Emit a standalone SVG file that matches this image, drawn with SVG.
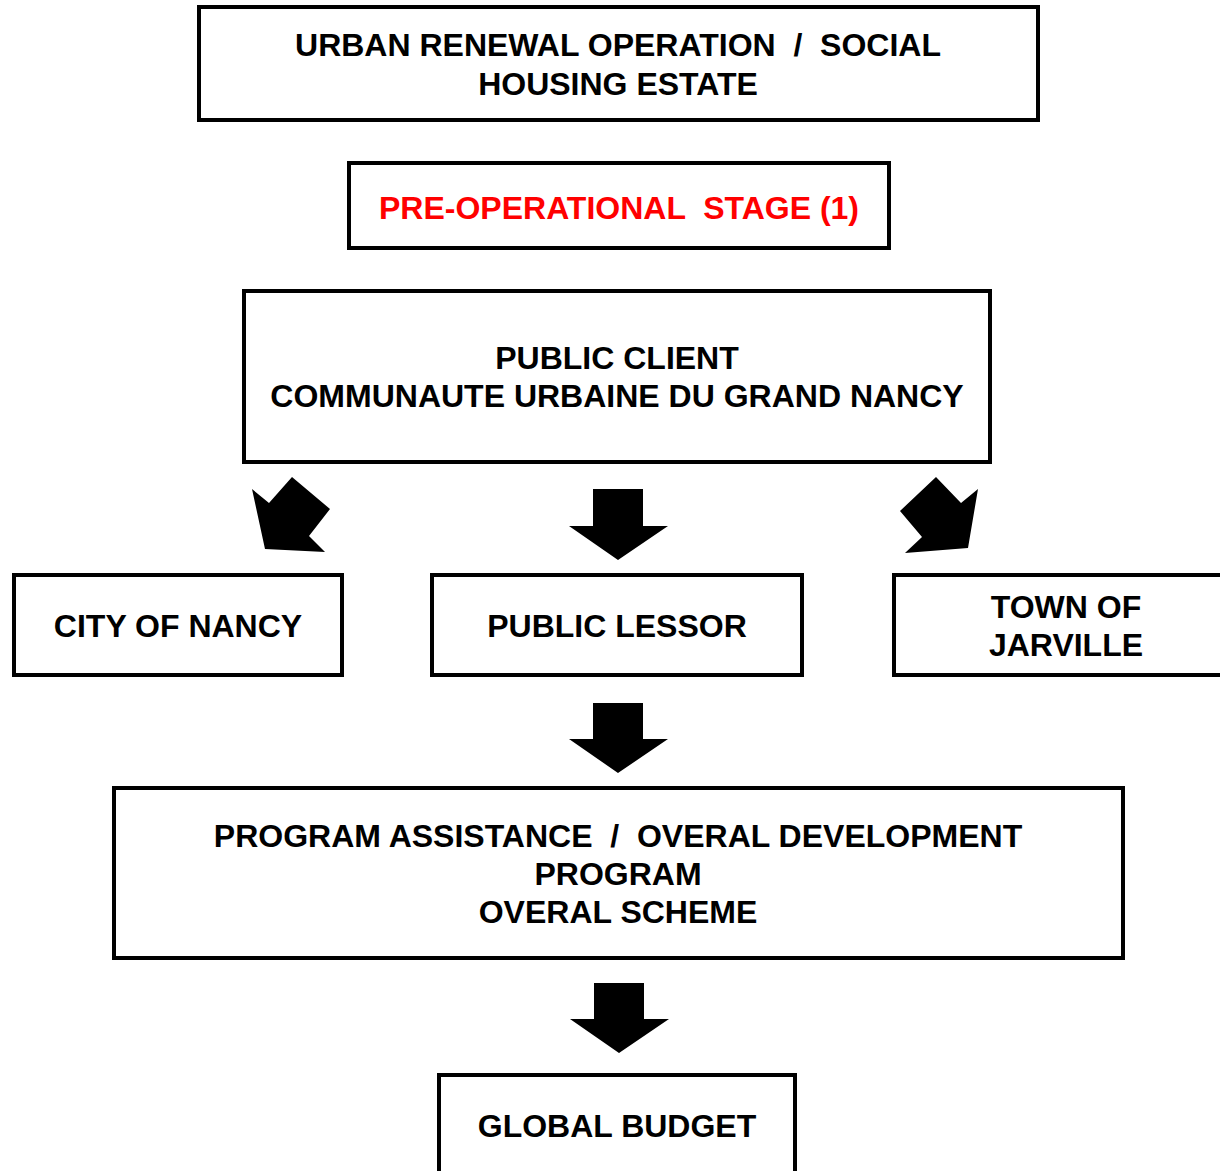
<svg xmlns="http://www.w3.org/2000/svg" width="1220" height="1171" viewBox="0 0 1220 1171">
<style>
.box{fill:#fff;stroke:#000;stroke-width:4}
.t{font-family:"Liberation Sans",Arial,sans-serif;font-weight:bold;font-size:32px;fill:#000;text-anchor:middle;white-space:pre}
.red{fill:#ff0000}
.arr{fill:#000;stroke:none}
</style>
<rect width="1220" height="1171" fill="#fff"/>
<g id="urban-renewal">
<rect class="box" x="199" y="7" width="839" height="113"/>
<text class="t" x="618" y="56" xml:space="preserve">URBAN RENEWAL OPERATION  /  SOCIAL</text>
<text class="t" x="618" y="95">HOUSING ESTATE</text>
</g>
<g id="pre-operational">
<rect class="box" x="349" y="163" width="540" height="85"/>
<text class="t red" x="619" y="219" xml:space="preserve">PRE-OPERATIONAL  STAGE (1)</text>
</g>
<g id="public-client">
<rect class="box" x="244" y="291" width="746" height="171"/>
<text class="t" x="617" y="369">PUBLIC CLIENT</text>
<text class="t" x="617" y="407">COMMUNAUTE URBAINE DU GRAND NANCY</text>
</g>
<g id="city-of-nancy">
<rect class="box" x="14" y="575" width="328" height="100"/>
<text class="t" x="178" y="637">CITY OF NANCY</text>
</g>
<g id="public-lessor">
<rect class="box" x="432" y="575" width="370" height="100"/>
<text class="t" x="617" y="637">PUBLIC LESSOR</text>
</g>
<g id="town-of-jarville">
<rect class="box" x="894" y="575" width="340" height="100"/>
<text class="t" x="1066" y="618">TOWN OF</text>
<text class="t" x="1066" y="656">JARVILLE</text>
</g>
<g id="program">
<rect class="box" x="114" y="788" width="1009" height="170"/>
<text class="t" x="618" y="847" xml:space="preserve">PROGRAM ASSISTANCE  /  OVERAL DEVELOPMENT</text>
<text class="t" x="618" y="885">PROGRAM</text>
<text class="t" x="618" y="923">OVERAL SCHEME</text>
</g>
<g id="global-budget">
<rect class="box" x="439" y="1075" width="356" height="120"/>
<text class="t" x="617" y="1137">GLOBAL BUDGET</text>
</g>
<g id="connectors">
<polygon class="arr" points="252,489 269,503 292,477 330,509 309,536 325,552 265,549"/>
<polygon class="arr" points="978,489 961,503 936,477 900,511 922,537 905,553 968,548"/>
<polygon class="arr" points="593,489 643,489 643,526 668,526 618,560 569,526 593,526"/>
<polygon class="arr" points="593,703 643,703 643,739 668,739 618,773 569,739 593,739"/>
<polygon class="arr" points="594,983 644,983 644,1019 669,1019 619,1053 570,1019 594,1019"/>
</g>
</svg>
